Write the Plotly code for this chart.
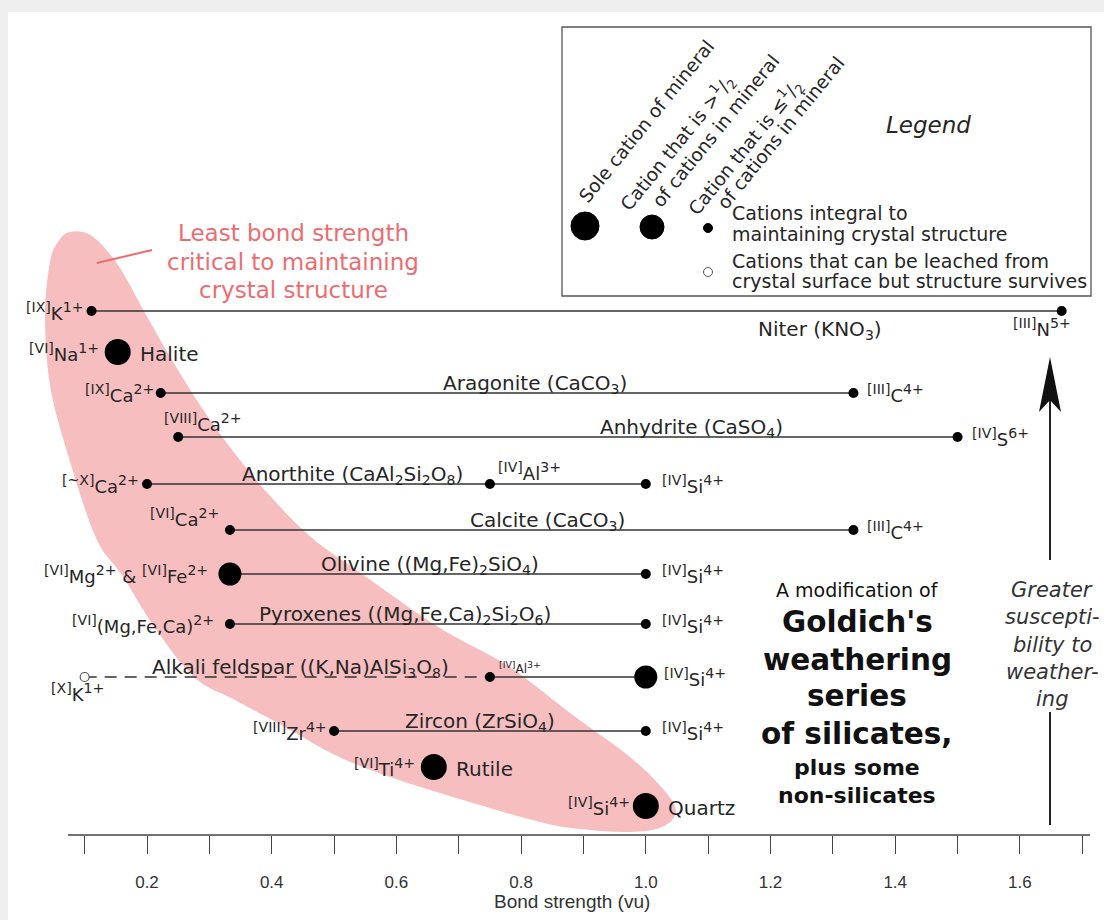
import plotly.graph_objects as go

# ---------------- data ----------------
minerals = ["Niter", "Halite", "Aragonite", "Anhydrite", "Anorthite", "Calcite",
            "Olivine", "Pyroxenes", "Alkali feldspar", "Zircon", "Rutile", "Quartz"]
formulas = ["(KNO<sub>3</sub>)", "", "(CaCO<sub>3</sub>)", "(CaSO<sub>4</sub>)",
            "(CaAl<sub>2</sub>Si<sub>2</sub>O<sub>8</sub>)", "(CaCO<sub>3</sub>)",
            "((Mg,Fe)<sub>2</sub>SiO<sub>4</sub>)",
            "((Mg,Fe,Ca)<sub>2</sub>Si<sub>2</sub>O<sub>6</sub>)",
            "((K,Na)AlSi<sub>3</sub>O<sub>8</sub>)", "(ZrSiO<sub>4</sub>)", "", ""]

cation_mineral = [0, 0, 1, 2, 2, 3, 3, 4, 4, 4, 5, 5, 6, 6, 7, 7, 8, 8, 8, 9, 9, 10, 11]
cation_label = ["[IX]K1+", "[III]N5+", "[VI]Na1+", "[IX]Ca2+", "[III]C4+",
                "[VIII]Ca2+", "[IV]S6+", "[~X]Ca2+", "[IV]Al3+", "[IV]Si4+",
                "[VI]Ca2+", "[III]C4+", "[VI]Mg2+ & [VI]Fe2+", "[IV]Si4+",
                "[VI](Mg,Fe,Ca)2+", "[IV]Si4+", "[X]K1+", "[IV]Al3+", "[IV]Si4+",
                "[VIII]Zr4+", "[IV]Si4+", "[VI]Ti4+", "[IV]Si4+"]
cation_vu = [0.111, 1.667, 0.153, 0.222, 1.333, 0.25, 1.5, 0.2, 0.75, 1.0,
             0.333, 1.333, 0.333, 1.0, 0.333, 1.0, 0.1, 0.75, 1.0,
             0.5, 1.0, 0.66, 1.0]
cation_role = ["integral", "integral", "sole", "integral", "integral",
               "integral", "integral", "integral", "integral", "integral",
               "integral", "integral", "major", "integral",
               "integral", "integral", "leachable", "integral", "major",
               "integral", "integral", "sole", "sole"]

tick_vals = [0.2, 0.4, 0.6, 0.8, 1.0, 1.2, 1.4, 1.6]
minor_vals = [0.1, 0.3, 0.5, 0.7, 0.9, 1.1, 1.3, 1.5, 1.7]

# ---------------- layout constants ----------------
W, H = 1104, 920
PLOT_BOTTOM = 835            # pixel row of the x axis line
VU0_PX, PX_PER_VU = 22.3, 623.5
row_level = [311, 352, 393, 437, 484, 530, 574, 624, 677, 731, 767, 806]
# where each mineral's name sits (bond-strength units), None = beside the dot
name_x = [1.279, None, 0.822, 1.074, 0.529, 0.843, 0.654, 0.614, 0.446, 0.734, None, None]
# label offsets (dx, dy in px from the dot, anchor)
label_off = [(-7, 0, "right"), (-20, 16, "center"), (-17, 0, "right"), (-5, 0, "right"),
             (12, 0, "left"), (-16, -15, "left"), (12, 0, "left"), (-6, 0, "right"),
             (6, -13, "left"), (14, 0, "left"), (-9, -13, "right"), (12, 0, "left"),
             (-20, 0, "right"), (14, 0, "left"), (-14, 0, "right"), (14, 0, "left"),
             (-7, 15, "center"), (7, -10, "left"), (16, 0, "left"), (-5, 0, "right"),
             (14, 0, "left"), (-17, 0, "right"), (-14, 0, "right")]
marker_size = {"sole": 26, "major": 23, "integral": 10, "leachable": 9}

FONT = "DejaVu Sans, Verdana, sans-serif"
AXFONT = "Liberation Sans, Arial, sans-serif"
INK = "#262626"
LINE = "#333333"
PINK = "#EE6B70"


def px(x, y):
    """pixel position -> paper coordinates"""
    return x / W, (PLOT_BOTTOM - y) / PLOT_BOTTOM


def sup(t):
    return '<sup><span style="font-size:112%">' + t + "</span></sup>"


def fmt_ion(lbl):
    """'[IX]Ca2+' -> coordination number and charge as superscripts"""
    out, i = "", 0
    while i < len(lbl):
        c = lbl[i]
        if c == "[":
            j = lbl.index("]", i)
            out += sup(lbl[i:j + 1])
            i = j + 1
        elif c.isdigit() and i + 1 < len(lbl) and lbl[i + 1] == "+":
            out += sup(c + "+")
            i += 2
        else:
            out += c
            i += 1
    return out


def note(x, y, text, size, color=INK, family=FONT, **kw):
    ax, ay = px(x, y)
    d = dict(xref="paper", yref="paper", x=ax, y=ay, text=text, showarrow=False,
             xanchor="center", yanchor="middle", font=dict(family=family, size=size, color=color))
    d.update(kw)
    return d


fig = go.Figure()
shapes, annotations = [], []

# page frame
shapes.append(dict(type="rect", xref="paper", yref="paper", layer="below",
                   x0=px(8, 0)[0], x1=1.0, y0=px(0, H)[1], y1=px(0, 12)[1],
                   fillcolor="white", line=dict(width=0)))

# highlighted band of least bond strength
band = [(70, 232), (92, 236), (118, 265), (145, 313), (172, 360), (202, 408), (236, 455),
        (272, 498), (312, 538), (362, 574), (440, 628), (508, 666), (574, 716), (630, 757),
        (664, 790), (676, 812), (662, 827), (630, 832), (580, 829), (540, 822), (473, 803),
        (390, 777), (335, 755), (285, 727), (235, 700), (195, 678), (155, 628), (122, 575),
        (96, 538), (68, 455), (50, 385), (45, 315), (50, 262), (58, 242)]
bp = [px(x, y) for x, y in band]
n = len(bp)
path = "M{:.5f},{:.5f}".format(*bp[0])
for i in range(n):
    p0, p1, p2, p3 = bp[i - 1], bp[i], bp[(i + 1) % n], bp[(i + 2) % n]
    c1 = (p1[0] + (p2[0] - p0[0]) / 6, p1[1] + (p2[1] - p0[1]) / 6)
    c2 = (p2[0] - (p3[0] - p1[0]) / 6, p2[1] - (p3[1] - p1[1]) / 6)
    path += " C{:.5f},{:.5f} {:.5f},{:.5f} {:.5f},{:.5f}".format(*c1, *c2, *p2)
path += " Z"
shapes.append(dict(type="path", xref="paper", yref="paper", layer="below", path=path,
                   fillcolor="rgba(238,110,115,0.45)", line=dict(width=0)))
a, b = px(97, 263), px(152, 250)
shapes.append(dict(type="line", xref="paper", yref="paper", x0=a[0], y0=a[1], x1=b[0], y1=b[1],
                   line=dict(color=PINK, width=2)))
for txt, y in [("Least bond strength", 233), ("critical to maintaining", 262),
               ("crystal structure", 290)]:
    annotations.append(note(293, y, txt, 23, PINK))

# connecting bond lines for each mineral
for m in range(len(minerals)):
    idx = sorted([k for k in range(len(cation_vu)) if cation_mineral[k] == m],
                 key=lambda k: cation_vu[k])
    for a_i, b_i in zip(idx[:-1], idx[1:]):
        dashed = "leachable" in (cation_role[a_i], cation_role[b_i])
        fig.add_trace(go.Scatter(
            x=[cation_vu[a_i], cation_vu[b_i]], y=[row_level[m]] * 2, mode="lines",
            line=dict(color=LINE, width=1.4, dash="12px,8px" if dashed else "solid"),
            hoverinfo="skip", showlegend=False))

# cation dots
for role in ["sole", "major", "integral", "leachable"]:
    ks = [k for k in range(len(cation_vu)) if cation_role[k] == role]
    open_dot = role == "leachable"
    fig.add_trace(go.Scatter(
        x=[cation_vu[k] for k in ks], y=[row_level[cation_mineral[k]] for k in ks],
        mode="markers", showlegend=False, cliponaxis=False,
        marker=dict(size=marker_size[role], color="white" if open_dot else "black",
                    line=dict(color="#555" if open_dot else "black", width=1.2 if open_dot else 0))))

# cation labels
for k, lbl in enumerate(cation_label):
    dx, dy, anc = label_off[k]
    small = (k == 17)
    annotations.append(dict(x=cation_vu[k], y=row_level[cation_mineral[k]], xref="x", yref="y",
                            text=fmt_ion(lbl), showarrow=False, xanchor=anc, yanchor="middle",
                            xshift=dx, yshift=-dy,
                            font=dict(family=FONT, size=12 if small else 18, color=INK)))

# mineral names
for m, name in enumerate(minerals):
    text = name + (" " + formulas[m] if formulas[m] else "")
    f = dict(family=FONT, size=20, color=INK)
    if name_x[m] is None:
        k = [k for k in range(len(cation_vu)) if cation_mineral[k] == m][0]
        annotations.append(dict(x=cation_vu[k], y=row_level[m], xref="x", yref="y", text=text,
                                showarrow=False, xanchor="left", yanchor="middle", xshift=20,
                                yshift=-2, font=f))
    elif m == 0:
        annotations.append(dict(x=name_x[m], y=row_level[m], xref="x", yref="y", text=text,
                                showarrow=False, xanchor="center", yanchor="top", yshift=-4,
                                font=f))
    else:
        annotations.append(dict(x=name_x[m], y=row_level[m], xref="x", yref="y", text=text,
                                showarrow=False, xanchor="center", yanchor="bottom", yshift=-6,
                                font=f))

# legend box
lx0, ly0 = px(562, 27)
lx1, ly1 = px(1091, 296)
shapes.append(dict(type="rect", xref="paper", yref="paper", x0=lx0, x1=lx1, y0=ly1, y1=ly0,
                   line=dict(color="#555", width=1.3), fillcolor="rgba(0,0,0,0)"))
leg_dots = [(585, 226, 28, "black"), (652, 227, 24, "black"), (708, 228, 9, "black"),
            (708, 272, 9, "white")]
for x, y, d, c in leg_dots:
    cx, cy = px(x, y)
    rx, ry = (d / 2) / W, (d / 2) / PLOT_BOTTOM
    shapes.append(dict(type="circle", xref="paper", yref="paper", x0=cx - rx, x1=cx + rx,
                       y0=cy - ry, y1=cy + ry, fillcolor=c,
                       line=dict(color="#555" if c == "white" else "black", width=1)))
for txt, x, y in [("Sole cation of mineral", 646, 121),
                  ("Cation that is ><sup>1</sup>/<sub>2</sub>", 678, 143),
                  ("of cations in mineral", 715, 131),
                  ("Cation that is ≤<sup>1</sup>/<sub>2</sub>", 745, 147),
                  ("of cations in mineral", 780, 133)]:
    annotations.append(note(x, y, txt, 18.5, textangle=-51))
for txt, y in [("Cations integral to", 213), ("maintaining crystal structure", 234),
               ("Cations that can be leached from", 261),
               ("crystal surface but structure survives", 281)]:
    annotations.append(note(730, y, txt, 19, xanchor="left"))
annotations.append(note(928, 125, "<i>Legend</i>", 23))

# title block
for txt, y, size, bold in [("A modification of", 590, 19, False), ("Goldich's", 622, 29.5, True),
                           ("weathering", 660, 29.5, True), ("series", 696, 29.5, True),
                           ("of silicates,", 734, 29.5, True), ("plus some", 767, 22, True),
                           ("non-silicates", 795, 22, True)]:
    annotations.append(note(857, y, "<b>%s</b>" % txt if bold else txt, size, "#111"))

# weathering arrow
for y0, y1 in [(825, 712), (560, 400)]:
    a, b = px(1050, y0), px(1050, y1)
    shapes.append(dict(type="line", xref="paper", yref="paper", x0=a[0], y0=a[1], x1=b[0],
                       y1=b[1], line=dict(color="#222", width=2)))
tip, base_l, base_r = px(1050, 357), px(1039, 412), px(1061, 412)
notch = px(1050, 400)
shapes.append(dict(type="path", xref="paper", yref="paper",
                   path="M{},{} L{},{} L{},{} L{},{} Z".format(tip[0], tip[1], base_r[0], base_r[1],
                                                               notch[0], notch[1], base_l[0], base_l[1]),
                   fillcolor="#111", line=dict(width=0)))
for txt, y in [("Greater", 590), ("suscepti-", 617), ("bility to", 645), ("weather-", 672),
               ("ing", 699)]:
    annotations.append(note(1052, y, "<i>%s</i>" % txt, 21, "#333"))

# x axis line and title
shapes.append(dict(type="line", xref="paper", yref="paper", x0=px(68, 0)[0], y0=0,
                   x1=px(1090, 0)[0], y1=0, line=dict(color="#444", width=1.5)))
annotations.append(note(572, 901, "Bond strength (vu)", 19, "#333", AXFONT))

fig.update_layout(
    width=W, height=H, margin=dict(l=0, r=0, t=0, b=H - PLOT_BOTTOM),
    paper_bgcolor="#efefef", plot_bgcolor="rgba(0,0,0,0)",
    shapes=shapes, annotations=annotations, showlegend=False,
    xaxis=dict(range=[-VU0_PX / PX_PER_VU, (W - VU0_PX) / PX_PER_VU], showgrid=False,
               zeroline=False, showline=False, tickmode="array", tickvals=tick_vals,
               ticktext=["%.1f" % v for v in tick_vals], ticks="outside", ticklen=18,
               tickwidth=1.4, tickcolor="#444", ticklabelstandoff=14,
               tickfont=dict(family=AXFONT, size=17, color="#333"),
               minor=dict(tickmode="array", tickvals=minor_vals, ticks="outside", ticklen=18,
                          tickwidth=1.4, tickcolor="#444", showgrid=False),
               fixedrange=True),
    yaxis=dict(range=[PLOT_BOTTOM, 0], visible=False, fixedrange=True),
)

fig.write_html("out.html")
